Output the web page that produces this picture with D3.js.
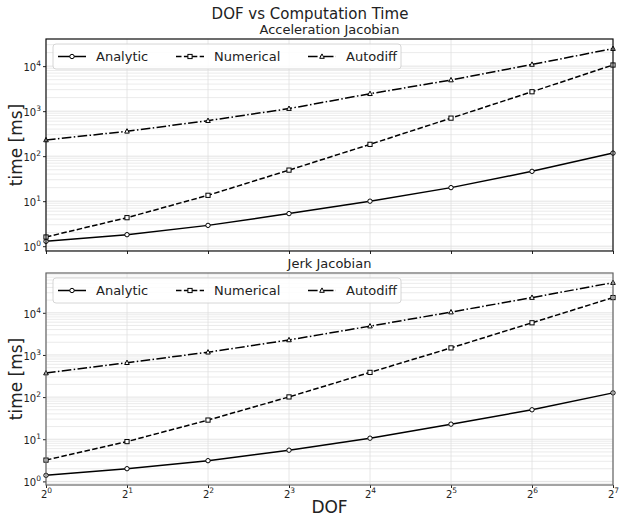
<!DOCTYPE html>
<html><head><meta charset="UTF-8">
<script src="https://d3js.org/d3.v7.min.js"></script>
<style>
body{margin:0;background:#fff}
text{font-family:"DejaVu Sans",sans-serif;fill:#222}
</style></head><body><div id="chart"></div><script>
const dof = [1, 2, 4, 8, 16, 32, 64, 128];

// acceleration jacobian, time [ms]
const accAnalytic = [1.28, 1.8, 2.9, 5.3, 10, 20, 46, 117];
const accNumerical = [1.6, 4.3, 13.5, 49, 183, 700, 2700, 10600];
const accAutodiff = [229, 357, 615, 1140, 2440, 4920, 10900, 24500];

// jerk jacobian, time [ms]
const jerkAnalytic = [1.39, 2.0, 3.1, 5.5, 10.6, 22.8, 50, 126];
const jerkNumerical = [3.2, 8.8, 28.5, 101, 386, 1470, 5800, 23000];
const jerkAutodiff = [372, 655, 1160, 2270, 4830, 10400, 23000, 52000];

const yDecades = [0, 1, 2, 3, 4];
const seriesNames = ['Analytic', 'Numerical', 'Autodiff'];

const W = 619, H = 520;
const left = 46, right = 613;
const panels = [
  { title: 'Acceleration Jacobian', top: 39, data: [accAnalytic, accNumerical, accAutodiff], frame: '#111', xLabels: false },
  { title: 'Jerk Jacobian', top: 273, data: [jerkAnalytic, jerkNumerical, jerkAutodiff], frame: '#666', xLabels: true }
];
const ph = 212;

const styles = [
  { dash: null, marker: 'circle' },
  { dash: '5.5,2.4', marker: 'square' },
  { dash: '9.6,2.4,1.5,2.4', marker: 'triangle' }
];

const svg = d3.select('#chart').append('svg').attr('width', W).attr('height', H);

svg.append('text').attr('x', 310).attr('y', 19).attr('text-anchor', 'middle')
  .style('font-size', '15px').text('DOF vs Computation Time');

const x = d3.scaleLog().base(2).domain([1, 128]).range([left, right]);

const drawMarker = (g, type, px, py) => {
  if (type === 'circle') {
    g.append('circle').attr('cx', px).attr('cy', py).attr('r', 2.2)
      .attr('fill', '#fff').attr('stroke', '#000').attr('stroke-width', 1);
  } else if (type === 'square') {
    g.append('rect').attr('x', px - 2.1).attr('y', py - 2.1).attr('width', 4.2).attr('height', 4.2)
      .attr('fill', '#fff').attr('stroke', '#000').attr('stroke-width', 1);
  } else {
    g.append('path').attr('d', `M${px},${py - 2.6}L${px + 2.3},${py + 1.8}L${px - 2.3},${py + 1.8}Z`)
      .attr('fill', '#fff').attr('stroke', '#000').attr('stroke-width', 1);
  }
};

const supLabel = (sel, base, exp) => {
  sel.text(null);
  sel.append('tspan').text(base);
  sel.append('tspan').attr('dy', -5).style('font-size', '7.5px').text(exp);
};

panels.forEach(p => {
  const all = p.data.flat().map(Math.log10);
  const lo = d3.min(all), hi = d3.max(all), m = (hi - lo) * 0.05;
  const y = d3.scaleLog().domain([10 ** (lo - m), 10 ** (hi + m)]).range([p.top + ph, p.top]);
  const g = svg.append('g');

  svg.append('text').attr('x', (left + right) / 2).attr('y', p.top - 5).attr('text-anchor', 'middle')
    .style('font-size', '13px').text(p.title);

  // minor grid
  const minors = [];
  for (let d = -1; d <= 5; d++) for (let k = 2; k <= 9; k++) {
    const v = k * 10 ** d;
    if (v > y.domain()[0] && v < y.domain()[1]) minors.push(v);
  }
  g.selectAll('.minor').data(minors).join('line')
    .attr('x1', left).attr('x2', right).attr('y1', d => y(d)).attr('y2', d => y(d))
    .attr('stroke', '#e6e6e6').attr('stroke-width', 0.8);
  g.selectAll('.major').data(yDecades).join('line')
    .attr('x1', left).attr('x2', right).attr('y1', d => y(10 ** d)).attr('y2', d => y(10 ** d))
    .attr('stroke', '#dcdcdc').attr('stroke-width', 0.8);
  g.selectAll('.vgrid').data(dof).join('line')
    .attr('x1', d => x(d)).attr('x2', d => x(d)).attr('y1', p.top).attr('y2', p.top + ph)
    .attr('stroke', '#e0e0e0').attr('stroke-width', 0.8);

  // y axis
  const ya = svg.append('g').attr('transform', `translate(${left},0)`)
    .call(d3.axisLeft(y).tickValues(yDecades.map(d => 10 ** d)).tickSize(3).tickPadding(2));
  ya.select('.domain').remove();
  ya.selectAll('line').attr('stroke', '#222');
  ya.selectAll('text').style('font-size', '10px').attr('dy', '0.45em')
    .each(function(d) { supLabel(d3.select(this), '10', Math.round(Math.log10(d))); });

  // x axis
  const xa = svg.append('g').attr('transform', `translate(0,${p.top + ph})`)
    .call(d3.axisBottom(x).tickValues(dof).tickSize(3).tickPadding(1));
  xa.select('.domain').remove();
  xa.selectAll('line').attr('stroke', '#222');
  if (p.xLabels) {
    xa.selectAll('text').style('font-size', '10px').attr('dy', '0.9em')
      .each(function(d) { supLabel(d3.select(this), '2', Math.round(Math.log2(d))); });
  } else {
    xa.selectAll('text').remove();
  }

  // lines
  p.data.forEach((vals, i) => {
    const pts = dof.map((d, j) => [x(d), y(vals[j])]);
    const sg = svg.append('g');
    sg.append('path').attr('d', d3.line()(pts)).attr('fill', 'none').attr('stroke', '#000')
      .attr('stroke-width', 1.5).attr('stroke-dasharray', styles[i].dash);
    pts.forEach(pt => drawMarker(sg, styles[i].marker, pt[0], pt[1]));
  });

  // frame
  svg.append('rect').attr('x', left).attr('y', p.top).attr('width', right - left).attr('height', ph)
    .attr('fill', 'none').attr('stroke', p.frame).attr('stroke-width', 1.2);

  // legend
  const lg = svg.append('g').attr('transform', `translate(53,${p.top + 5})`);
  lg.append('rect').attr('width', 348).attr('height', 25).attr('rx', 3)
    .attr('fill', 'rgba(255,255,255,0.85)').attr('stroke', '#ccc').attr('stroke-width', 0.8);
  const xs = [5, 123, 255];
  seriesNames.forEach((name, i) => {
    const ly = 12.5;
    lg.append('line').attr('x1', xs[i]).attr('x2', xs[i] + 28).attr('y1', ly).attr('y2', ly)
      .attr('stroke', '#000').attr('stroke-width', 1.5).attr('stroke-dasharray', styles[i].dash);
    drawMarker(lg, styles[i].marker, xs[i] + 14, ly);
    lg.append('text').attr('x', xs[i] + 38).attr('y', ly + 4.5).style('font-size', '13px').text(name);
  });

  svg.append('text').attr('transform', `translate(22,${p.top + ph / 2}) rotate(-90)`)
    .attr('text-anchor', 'middle').style('font-size', '17px').text('time [ms]');
});

svg.append('text').attr('x', (left + right) / 2).attr('y', 513).attr('text-anchor', 'middle')
  .style('font-size', '17px').text('DOF');
</script></body></html>
